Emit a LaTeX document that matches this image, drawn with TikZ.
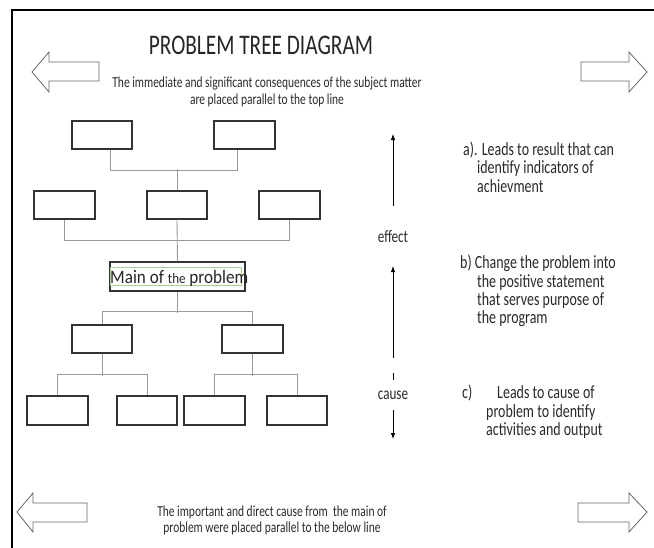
\documentclass[tikz,border=0pt]{standalone}
\usepackage{fontspec}
\setmainfont[FakeStretch=0.75]{Carlito}
\newfontfamily\mainfam[FakeStretch=0.9]{Carlito}
\usetikzlibrary{calc,arrows.meta}
\definecolor{txt}{HTML}{2A2A2A}
\definecolor{boxc}{HTML}{333333}
\definecolor{connc}{HTML}{9A9A9A}
\definecolor{bigarr}{HTML}{666666}
\definecolor{grn}{HTML}{A9D18E}
\tikzset{
  treebox/.style={draw=boxc,line width=1.2pt,minimum width=60pt,minimum height=28pt,inner sep=0pt,fill=white},
  conn/.style={draw=connc,line width=0.9pt},
  bigarrow/.style={draw=bigarr,line width=0.8pt,fill=white,line join=miter},
  sidetxt/.style={anchor=base west,inner sep=0pt,text=txt,font=\fontsize{18.6}{19}\selectfont},
  flowarrow/.style={draw=black,line width=0.8pt,-{Latex[length=6pt,width=4.5pt]}},
  lbl/.style={inner sep=0pt,text=txt,font=\fontsize{17.5}{18}\selectfont}
}
\begin{document}
\begin{tikzpicture}[x=1pt,y=-1pt]
\useasboundingbox (0,0) rectangle (654,547);
% frame
\draw[line width=2pt,line cap=rect] (12,550) -- (12,9.5) -- (660,9.5);
% big outline arrows
\draw[bigarrow] (32,72) -- (49,52) -- (49,62) -- (99,62) -- (99,81) -- (49,81) -- (49,92) -- cycle;
\draw[bigarrow] (647,72) -- (629,52) -- (629,62) -- (581,62) -- (581,81) -- (629,81) -- (629,92) -- cycle;
\draw[bigarrow] (17,512) -- (33,493) -- (33,503) -- (87,503) -- (87,522) -- (33,522) -- (33,532) -- cycle;
\draw[bigarrow] (647,512) -- (629,493) -- (629,503) -- (578,503) -- (578,522) -- (629,522) -- (629,532) -- cycle;
% title and notes
\node[inner sep=0pt,text=black!85,font=\fontsize{28.4}{30}\selectfont] (title) at (261,45) {PROBLEM TREE DIAGRAM};
\node[inner sep=0pt,text=txt,align=center,font=\fontsize{15.3}{17}\selectfont] (topnote) at (267,91.5)
  {The immediate and significant consequences of the subject matter\\are placed parallel to the top line};
\node[inner sep=0pt,text=txt,align=center,font=\fontsize{15.3}{16}\selectfont] (botnote) at (272,520.5)
  {The important and direct cause from\ \ the main of\\problem were placed parallel to the below line};
% tree boxes
\node[treebox] (t1) at (102,135) {};
\node[treebox,minimum width=61pt] (t2) at (244.5,135) {};
\node[treebox,minimum width=61pt] (m1) at (64.5,205) {};
\node[treebox] (m2) at (177,205) {};
\node[treebox,minimum width=61pt] (m3) at (289.5,205) {};
\node[treebox,minimum width=135pt,minimum height=29pt] (main) at (177.5,276.5) {};
\node[treebox] (c1) at (102,339) {};
\node[treebox,minimum width=61pt] (c2) at (252.5,339) {};
\node[treebox,minimum width=61pt,minimum height=29pt] (d1) at (57.5,410.5) {};
\node[treebox,minimum height=29pt] (d2) at (147,410.5) {};
\node[treebox,minimum width=61pt,minimum height=29pt] (d3) at (214.5,410.5) {};
\node[treebox,minimum height=29pt] (d4) at (297,410.5) {};
% main text
\draw[draw=grn,line width=0.8pt] (110.5,267) rectangle (241,285);
\node[anchor=base west,inner sep=0pt,text=black!85,font=\mainfam\fontsize{19}{20}\selectfont] (maintext) at (110,283)
  {Main of {\fontsize{14.5}{14}\selectfont the} problem};
% connectors
\draw[conn] ($(t1.south)+(8,0)$) -- ++(0,21) -| ($(t2.south)+(-7.5,0)$);
\draw[conn] (m2.north) -- ++(0,-21);
\draw[conn] (m1.south) -- ++(0,21) -| (m3.south);
\draw[conn] (m2.south) -- (main.north);
\draw[conn] (main.south) -- ++(0,21);
\draw[conn] (c1.north) -- ++(0,-13) -| (c2.north);
\draw[conn] (c1.south) -- ++(0,22);
\draw[conn] (d1.north) -- ++(0,-21) -| (d2.north);
\draw[conn] (c2.south) -- ++(0,22);
\draw[conn] (d3.north) -- ++(0,-21) -| (d4.north);
% effect / cause
\node[lbl] (effect) at (393,237) {effect};
\node[lbl] (cause) at (393,395) {cause};
\coordinate (e1) at (393,206);
\coordinate (e1t) at (393,134);
\coordinate (e2) at (393,358);
\coordinate (e2t) at (393,266);
\coordinate (dsa) at (393,373);
\coordinate (dsb) at (393,380);
\coordinate (c3a) at (393,410);
\coordinate (c3t) at (393,439);
\draw[flowarrow] (e1) -- (e1t);
\draw[flowarrow] (e2) -- (e2t);
\draw[draw=black,line width=0.8pt] (dsa) -- (dsb);
\draw[flowarrow] (c3a) -- (c3t);
% side notes
\node[sidetxt] (a1) at (463,155) {a). Leads to result that can};
\node[sidetxt] (a2) at (477,173.5) {identify indicators of};
\node[sidetxt] (a3) at (477,192) {achievment};
\node[sidetxt] (b1) at (460,268) {b) Change the problem into};
\node[sidetxt] (b2) at (477,287) {the positive statement};
\node[sidetxt] (b3) at (477,305) {that serves purpose of};
\node[sidetxt] (b4) at (477,323.5) {the program};
\node[sidetxt] (cc0) at (462,398) {c)};
\node[sidetxt] (cc1) at (497,398) {Leads to cause of};
\node[sidetxt] (cc2) at (486,417) {problem to identify};
\node[sidetxt] (cc3) at (486,435) {activities and output};
\end{tikzpicture}
\end{document}
